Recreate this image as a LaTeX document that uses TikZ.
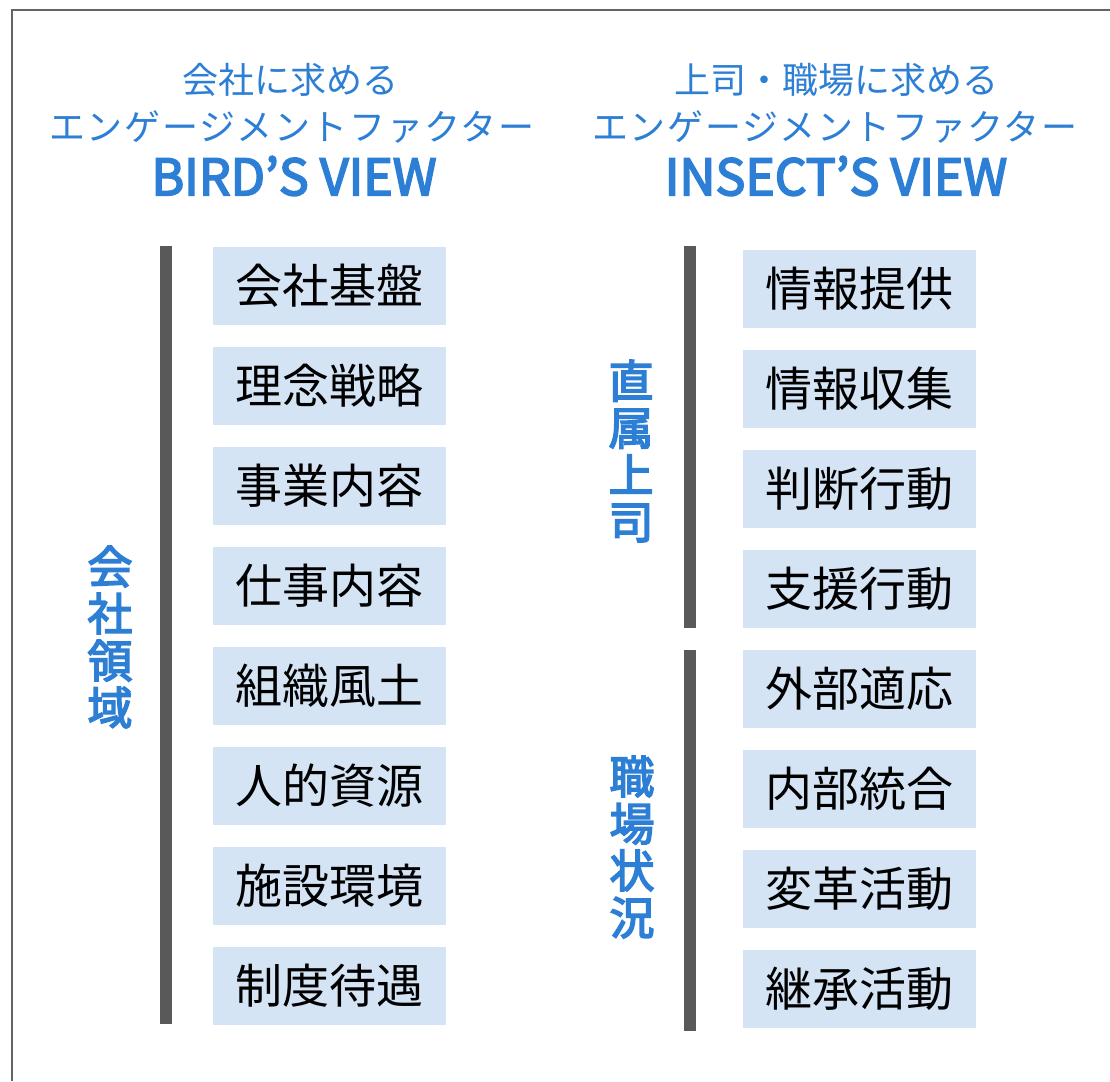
\documentclass[tikz,border=0pt]{standalone}
\usepackage{fontspec}
\setmainfont{Noto Sans CJK JP}
\newfontfamily\medfont[FakeBold=3.5]{Noto Sans CJK JP}
\newfontfamily\spacedfont[LetterSpace=4.5]{Noto Sans CJK JP}
\definecolor{hblue}{RGB}{44,127,213}
\definecolor{boxfill}{RGB}{213,228,245}
\definecolor{bargray}{RGB}{89,89,89}
\definecolor{framegray}{RGB}{100,100,100}
\tikzset{
  factor/.style={fill=boxfill, minimum width=233pt, minimum height=78pt, inner sep=0pt,
    font=\fontsize{47}{50}\selectfont, text=black},
  headsmall/.style={text=hblue, font=\fontsize{36}{40}\selectfont, inner sep=0pt},
  headspaced/.style={text=hblue, font=\spacedfont\fontsize{36}{40}\selectfont, inner sep=0pt},
  headbig/.style={text=hblue, font=\medfont\fontsize{50}{54}\selectfont, inner sep=0pt},
  vlabel/.style={text=hblue, font=\medfont\fontsize{45}{47}\selectfont, align=center, inner sep=0pt},
  bar/.style={fill=bargray, draw=none}
}
\begin{document}
\begin{tikzpicture}[x=1pt,y=-1pt]
\useasboundingbox (0,0) rectangle (1110,1081);
\fill[white] (0,0) rectangle (1110,1081);
\draw[framegray, line width=2pt] (12,1081) -- (12,10.5) -- (1110,10.5);
% headers
\node[headsmall] (h1a) at (290,80) {会社に求める};
\node[headspaced] (h1b) at (292,127) {エンゲージメントファクター};
\node[headbig] (h1c) at (294,176) {BIRD’S VIEW};
\node[headsmall] (h2a) at (836,80) {上司・職場に求める};
\node[headspaced] (h2b) at (835,127) {エンゲージメントファクター};
\node[headbig] (h2c) at (836,176) {INSECT’S VIEW};
% bars
\fill[bar] (160,246) rectangle (172,1024);
\fill[bar] (684,246) rectangle (696,628);
\fill[bar] (684,650) rectangle (696,1031);
% vertical labels
\node[vlabel] (lcomp) at (110,637) {会\\社\\領\\域};
\node[vlabel] (lboss) at (631,451) {直\\属\\上\\司};
\node[vlabel] (lwork) at (632,847) {職\\場\\状\\況};
% left boxes
\foreach \t [count=\i from 0] in {会社基盤,理念戦略,事業内容,仕事内容,組織風土,人的資源,施設環境,制度待遇}{
  \node[factor] (L\i) at (329.4,{286+100*\i}) {\raisebox{2pt}{\t}};
}
% right boxes
\foreach \t [count=\i from 0] in {情報提供,情報収集,判断行動,支援行動,外部適応,内部統合,変革活動,継承活動}{
  \node[factor] (R\i) at (859.4,{289+100*\i}) {\raisebox{2pt}{\t}};
}
\end{tikzpicture}
\end{document}
